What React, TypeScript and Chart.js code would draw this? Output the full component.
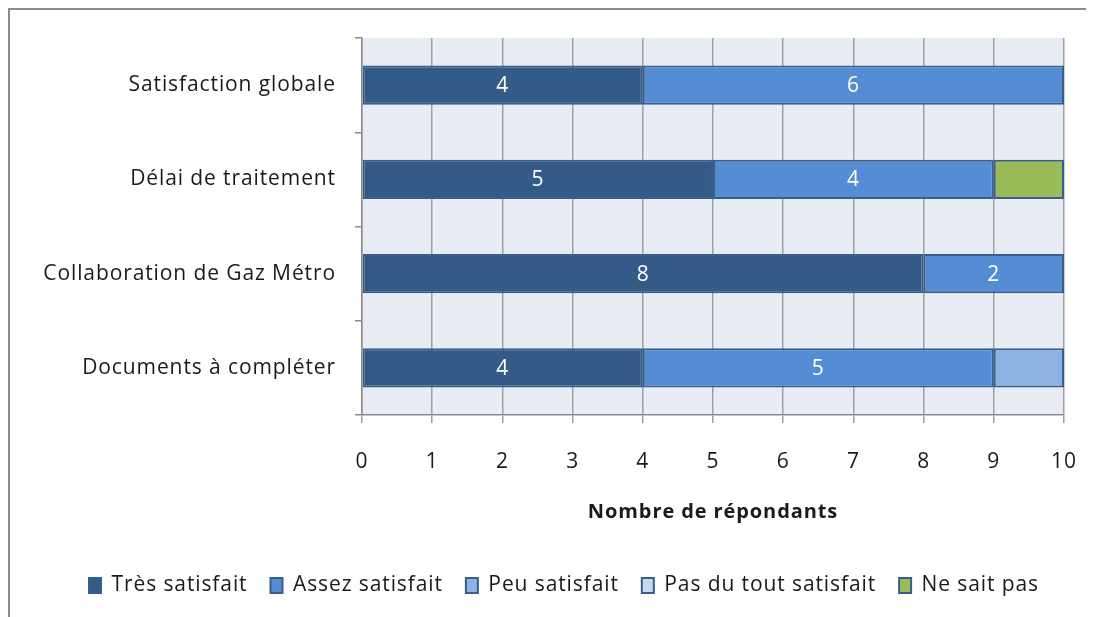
import React, { useEffect, useRef } from "react";
import { Chart, registerables } from "chart.js";

Chart.register(...registerables);

const categories = [
  "Satisfaction globale",
  "Délai de traitement",
  "Collaboration de Gaz Métro",
  "Documents à compléter",
];
const seriesNames = [
  "Très satisfait",
  "Assez satisfait",
  "Peu satisfait",
  "Pas du tout satisfait",
  "Ne sait pas",
];
const tresSatisfait = [4, 5, 8, 4];
const assezSatisfait = [6, 4, 2, 5];
const peuSatisfait = [0, 0, 0, 1];
const pasDuToutSatisfait = [0, 0, 0, 0];
const neSaitPas = [0, 1, 0, 0];
const xAxisTitle = "Nombre de répondants";
const xMin = 0;
const xMax = 10;

const FONT = "'Open Sans', 'Noto Sans', 'Liberation Sans', sans-serif";
const FS = 21;
const SPACING = "0.9px";
const fills = ["#345A88", "#548DD4", "#8DB3E2", "#C6D9F1", "#9BBB59"];
const border = "#3A5E8C";

const spacingPlugin = {
  id: "spacing",
  beforeLayout(chart: any) {
    chart.ctx.letterSpacing = SPACING;
  },
  afterLayout(chart: any) {
    if (chart.legend) {
      chart.legend.left += 27;
      chart.legend.right += 27;
    }
  },
  beforeDraw(chart: any) {
    chart.ctx.letterSpacing = SPACING;
  },
};

const plotBg = {
  id: "plotBg",
  beforeDraw(chart: any) {
    const { ctx, chartArea } = chart;
    ctx.save();
    ctx.fillStyle = "#E8ECF4";
    ctx.fillRect(chartArea.left, chartArea.top, chartArea.right - chartArea.left, chartArea.bottom - chartArea.top);
    ctx.restore();
  },
};

const valueLabels = {
  id: "valueLabels",
  afterDatasetsDraw(chart: any) {
    const { ctx } = chart;
    ctx.save();
    ctx.font = `${FS}px ${FONT}`;
    ctx.fillStyle = "#ffffff";
    ctx.textAlign = "center";
    ctx.textBaseline = "middle";
    chart.data.datasets.forEach((ds: any, di: number) => {
      if (di > 1) return;
      const meta = chart.getDatasetMeta(di);
      meta.data.forEach((el: any, i: number) => {
        const v = ds.data[i];
        if (!v) return;
        const p = el.getProps(["x", "y", "base"], true);
        ctx.fillText(String(v), (p.x + p.base) / 2, p.y + 1);
      });
    });
    ctx.restore();
  },
};

function zeroPad(scale: any) {
  scale.paddingLeft = 0;
  scale.paddingRight = 0;
  scale.paddingTop = 0;
  scale.paddingBottom = 0;
}

export default function App() {
  const ref = useRef<HTMLCanvasElement | null>(null);
  useEffect(() => {
    if (!ref.current) return;
    const seriesData = [tresSatisfait, assezSatisfait, peuSatisfait, pasDuToutSatisfait, neSaitPas];
    const chart = new Chart(ref.current, {
      type: "bar",
      data: {
        labels: categories,
        datasets: seriesNames.map((name, i) => ({
          label: name,
          data: seriesData[i],
          backgroundColor: fills[i],
          borderColor: border,
          borderWidth: 2,
          borderSkipped: false,
          barPercentage: 0.415,
          categoryPercentage: 1,
        })),
      },
      options: {
        indexAxis: "y",
        animation: false,
        responsive: false,
        layout: { padding: { top: 28, right: 30, left: 0, bottom: 11 } },
        scales: {
          x: {
            stacked: true,
            min: xMin,
            max: xMax,
            ticks: { stepSize: 1, color: "#1a1a1a", font: { family: FONT, size: FS }, padding: 26 },
            grid: { color: "#a0a0a0", lineWidth: 1.5, tickLength: 8 },
            border: { display: true, color: "#8c8c8c", width: 1.5 },
            title: {
              display: true,
              text: xAxisTitle,
              color: "#1a1a1a",
              font: { family: FONT, size: 20, weight: "bold" },
              padding: { top: 0, bottom: 28 },
            },
            afterFit(scale: any) {
              scale.height = 137;
              zeroPad(scale);
            },
          },
          y: {
            stacked: true,
            ticks: { color: "#1a1a1a", font: { family: FONT, size: FS }, padding: 19 },
            grid: { drawOnChartArea: false, color: "#8c8c8c", tickLength: 7, offset: true, lineWidth: 1.5 },
            border: { display: true, color: "#8c8c8c", width: 1.5 },
            afterFit(scale: any) {
              scale.width = 352;
              zeroPad(scale);
            },
          },
        },
        plugins: {
          legend: {
            position: "bottom",
            labels: {
              boxWidth: 12,
              boxHeight: 15,
              padding: 23,
              color: "#1a1a1a",
              font: { family: FONT, size: FS },
            },
          },
          tooltip: { enabled: false },
        },
      },
      plugins: [spacingPlugin, plotBg, valueLabels],
    });
    return () => chart.destroy();
  }, []);
  return (
    <div
      style={{
        borderLeft: "2px solid #8a8a8a",
        borderTop: "2px solid #8a8a8a",
        width: 1084,
        height: 607,
        background: "#fff",
      }}
    >
      <canvas ref={ref} width={1084} height={607} style={{ display: "block", width: 1084, height: 607 }} />
    </div>
  );
}
